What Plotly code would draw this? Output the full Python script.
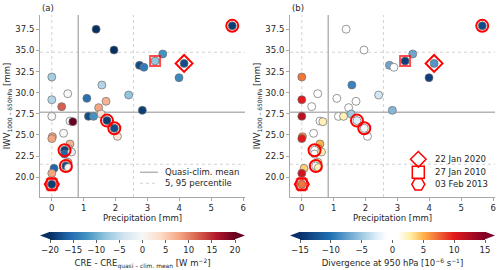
import plotly.graph_objects as go

# ---------------- data ----------------
precip = [5.66, 1.39, 1.95, 3.48, 3.24, 2.75, 2.89, 4.15, 3.99, 0.0,
          0.0, 0.5, 1.57, 1.1, 2.41, 1.70, 0.31, 1.47, 2.84, 0.0,
          1.15, 1.31, 1.55, 1.73, 1.96, 2.06, 0.57, 0.66, 0.37, 0.02,
          0.0, 0.57, 0.52, 0.4, 0.4, 0.62, 0.51, 0.44, 0.52, 0.07,
          0.0, 0.0]
iwv = [37.9, 37.5, 35.04, 34.57, 33.74, 33.23, 33.0, 33.46, 31.77, 31.85,
       29.17, 29.88, 30.9, 29.33, 29.72, 28.98, 28.35, 28.23, 27.91, 27.2,
       27.2, 27.2, 27.48, 26.7, 25.79, 24.84, 26.65, 26.57, 25.2, 24.8,
       24.57, 23.94, 23.4, 23.2, 22.74, 22.99, 21.77, 21.34, 21.14, 21.06,
       20.47, 19.17]
cre_anom = [-19, -20, -20, -12, -8, -18, -14, -18, -13, -7,
            -6, 0, -6, -15, -8, 7, 12, 8, -19, 0,
            -18, -12, 3, -19, -18, 3, 0, 20, 0, 8,
            8, 7, -5, -19, -16, -2, 7, -18, 0, -16,
            8, -19]
divergence = [-13, 0, 0, -7, -14, -7, 0, -8, -14, 7,
              10, 0, -9, 0, -3, -1, 0, 0, -6, 12,
              0, 2.5, -5, -2.5, -1.5, 0, 0, 2.5, 0, 6,
              10, 5, 6, 0, 0, 2.5, 3, 0, 2.5, 4,
              11, 7]

# highlighted event days
ev_feb2013_x = [5.66, 1.73, 1.96, 0.4, 0.44]
ev_feb2013_y = [37.9, 26.7, 25.79, 23.2, 21.34]
ev_feb2013_main_x = [0.0]
ev_feb2013_main_y = [19.17]
ev_jan2020_x = [4.15]
ev_jan2020_y = [33.46]
ev_jan2010_x = [3.24, 0.0]
ev_jan2010_y = [33.74, 19.17]

clim_mean_x, clim_mean_y = 0.83, 27.68
pct_x = [0.0, 2.56]
pct_y = [21.54, 34.78]

event_labels = ["22 Jan 2020", "27 Jan 2010", "03 Feb 2013"]
line_labels = ["Quasi-clim. mean", "5, 95 percentile"]

x_ticks = [0, 1, 2, 3, 4, 5, 6]
y_ticks = [20.0, 22.5, 25.0, 27.5, 30.0, 32.5, 35.0, 37.5]
cre_ticks = [-20, -15, -10, -5, 0, 5, 10, 15, 20]
div_ticks = [-15, -10, -5, 0, 5, 10, 15]

# ---------------- styling ----------------
W, H = 500, 270
FONT = "DejaVu Sans"
TXT = "#262626"
FS = 8.5
GRAY = "#b4b4b4"
DOTC = "#d2d2d2"

rdbu_r = ['#053061', '#2166ac', '#4393c3', '#92c5de', '#d1e5f0', '#f7f7f7',
          '#fddbc7', '#f4a582', '#d6604d', '#b2182b', '#67001f']
cs_cre = [[i / 10, c] for i, c in enumerate(rdbu_r)]
cs_div = [[0.0, '#08306b'], [0.1667, '#2171b5'], [0.3333, '#9ecae1'],
          [0.42, '#e3f0fa'], [0.47, '#ffffff'], [0.53, '#ffffff'],
          [0.6, '#ffeda0'], [0.6667, '#feb24c'], [0.8333, '#e31a1c'],
          [1.0, '#800026']]

fig = go.Figure()

def px2x(p):
    return p / W

def px2y(p):
    return 1 - p / H

dom_a = [px2x(40), px2x(245)]
dom_b = [px2x(290), px2x(495)]
dom_y = [px2y(197), px2y(15)]

axes = [("x", "y", "coloraxis", cre_anom), ("x2", "y2", "coloraxis2", divergence)]
for xa, ya, cax, vals in axes:
    fig.add_trace(go.Scatter(
        x=precip, y=iwv, mode="markers", xaxis=xa, yaxis=ya, showlegend=False,
        marker=dict(size=8, color=vals, coloraxis=cax,
                    line=dict(color="#6e6e6e", width=0.7))))
    fig.add_trace(go.Scatter(
        x=ev_feb2013_x, y=ev_feb2013_y, mode="markers", xaxis=xa, yaxis=ya,
        showlegend=False,
        marker=dict(symbol="circle-open", size=12,
                    color="red", line=dict(color="red", width=2))))
    fig.add_trace(go.Scatter(
        x=ev_feb2013_main_x, y=ev_feb2013_main_y, mode="markers", xaxis=xa, yaxis=ya,
        showlegend=False,
        marker=dict(symbol="hexagon2-open", size=14,
                    color="red", line=dict(color="red", width=2))))
    fig.add_trace(go.Scatter(
        x=ev_jan2020_x, y=ev_jan2020_y, mode="markers", xaxis=xa, yaxis=ya,
        showlegend=False,
        marker=dict(symbol="diamond-open", size=13, color="red",
                    line=dict(color="red", width=2))))
    fig.add_trace(go.Scatter(
        x=ev_jan2010_x, y=ev_jan2010_y, mode="markers", xaxis=xa, yaxis=ya,
        showlegend=False,
        marker=dict(symbol="square-open", size=[10, 10], color="red",
                    line=dict(color="red", width=2))))

# reference lines
shapes = []
for xr, yr in (("x", "y"), ("x2", "y2")):
    xd = xr + " domain"
    yd = yr + " domain"
    for px_ in pct_x:
        shapes.append(dict(type="line", xref=xr, yref=yd, x0=px_, x1=px_, y0=0, y1=1,
                           line=dict(color=DOTC, width=1, dash="dot"), layer="below"))
    for py_ in pct_y:
        shapes.append(dict(type="line", xref=xd, yref=yr, x0=0, x1=1, y0=py_, y1=py_,
                           line=dict(color=DOTC, width=1, dash="dot"), layer="below"))
    shapes.append(dict(type="line", xref=xr, yref=yd, x0=clim_mean_x, x1=clim_mean_x,
                       y0=0, y1=1, line=dict(color=GRAY, width=1.5), layer="below"))
    shapes.append(dict(type="line", xref=xd, yref=yr, x0=0, x1=1, y0=clim_mean_y,
                       y1=clim_mean_y, line=dict(color=GRAY, width=1.5), layer="below"))

# colorbar extension triangles
cb_y0, cb_y1 = 231.7, 239.3
cb_ym = (cb_y0 + cb_y1) / 2
for (l, r, cl, cr) in ((50, 235, rdbu_r[0], rdbu_r[-1]),
                       (300, 485, '#08306b', '#800026')):
    shapes.append(dict(type="path", xref="paper", yref="paper",
                       path=f"M {px2x(l)},{px2y(cb_y0)} L {px2x(l-10)},{px2y(cb_ym)} L {px2x(l)},{px2y(cb_y1)} Z",
                       fillcolor=cl, line=dict(width=0)))
    shapes.append(dict(type="path", xref="paper", yref="paper",
                       path=f"M {px2x(r)},{px2y(cb_y0)} L {px2x(r+10)},{px2y(cb_ym)} L {px2x(r)},{px2y(cb_y1)} Z",
                       fillcolor=cr, line=dict(width=0)))

# legend overlay axis (pixel coordinates)
leg_line_y = [172.3, 183.3]
for yy, dash in zip(leg_line_y, ["solid", "dot"]):
    fig.add_trace(go.Scatter(x=[140, 158], y=[yy, yy], mode="lines", xaxis="x3", yaxis="y3",
                             showlegend=False, hoverinfo="skip",
                             line=dict(color=GRAY if dash == "solid" else DOTC,
                                       width=1.5 if dash == "solid" else 1, dash=dash)))
leg_mark_y = [159.3, 172.3, 184.3]
for yy, sym, sz in zip(leg_mark_y, ["diamond-open", "square-open", "hexagon2-open"], [12, 12, 13]):
    fig.add_trace(go.Scatter(x=[418.3], y=[yy], mode="markers", xaxis="x3", yaxis="y3",
                             showlegend=False, hoverinfo="skip",
                             marker=dict(symbol=sym, size=sz, color="red",
                                         line=dict(color="red", width=1.5))))

annotations = []
for yy, t in zip(leg_line_y, line_labels):
    annotations.append(dict(text=t, xref="paper", yref="paper", x=px2x(163), y=px2y(yy),
                            xanchor="left", yanchor="middle", showarrow=False,
                            font=dict(size=FS, color=TXT)))
for yy, t in zip(leg_mark_y, event_labels):
    annotations.append(dict(text=t, xref="paper", yref="paper", x=px2x(433), y=px2y(yy),
                            xanchor="left", yanchor="middle", showarrow=False,
                            font=dict(size=FS, color=TXT)))
for xx, t in ((40, "(a)"), (290, "(b)")):
    annotations.append(dict(text=t, xref="paper", yref="paper", x=px2x(xx), y=px2y(7.5),
                            xanchor="left", yanchor="middle", showarrow=False,
                            font=dict(size=FS, color=TXT)))

ax_common = dict(showgrid=False, zeroline=False, showline=True, linecolor="#a8a8a8",
                 linewidth=1, ticks="outside", ticklen=3, tickcolor="#a8a8a8",
                 tickfont=dict(size=FS, color=TXT), mirror=False)
xax = dict(ax_common, range=[-0.37, 6.06], tickvals=x_ticks,
           title=dict(text="Precipitation [mm]", font=dict(size=FS, color=TXT), standoff=2))
yax = dict(ax_common, range=[17.67, 39.18], tickvals=y_ticks, tickformat=".1f",
           title=dict(text="IWV<sub>1000 – 650hPa</sub> [mm]", font=dict(size=FS, color=TXT),
                      standoff=3))

def cbar(xc, title, ticks):
    return dict(orientation="h", x=xc, xanchor="center", y=px2y(cb_y0), yanchor="top",
                len=185 / W, lenmode="fraction", thickness=cb_y1 - cb_y0, xpad=0, ypad=0,
                outlinewidth=0, tickvals=ticks, ticks="outside", ticklen=3,
                tickcolor="#606060", tickfont=dict(size=FS, color=TXT),
                title=dict(text=title, side="bottom", font=dict(size=FS, color=TXT)))

fig.update_layout(
    width=W, height=H, template="none",
    margin=dict(l=0, r=0, t=0, b=0, pad=0),
    paper_bgcolor="white", plot_bgcolor="rgba(0,0,0,0)",
    font=dict(family=FONT, size=FS, color=TXT),
    showlegend=False,
    xaxis=dict(xax, domain=dom_a, anchor="y"),
    yaxis=dict(yax, domain=dom_y, anchor="x"),
    xaxis2=dict(xax, domain=dom_b, anchor="y2"),
    yaxis2=dict(yax, domain=dom_y, anchor="x2"),
    xaxis3=dict(domain=[0, 1], range=[0, W], visible=False, anchor="y3", fixedrange=True),
    yaxis3=dict(domain=[0, 1], range=[H, 0], visible=False, anchor="x3", fixedrange=True),
    coloraxis=dict(colorscale=cs_cre, cmin=-20, cmax=20,
                   colorbar=cbar(142.5 / W,
                                 "CRE - CRE<sub>quasi – clim. mean</sub> [W m<sup>−2</sup>]",
                                 cre_ticks)),
    coloraxis2=dict(colorscale=cs_div, cmin=-15, cmax=15,
                    colorbar=cbar(392.5 / W,
                                  "Divergence at 950 hPa [10<sup>−6</sup> s<sup>−1</sup>]",
                                  div_ticks)),
    shapes=shapes, annotations=annotations,
)

fig.write_html("out.html", config={"displayModeBar": False},
               post_script="document.body.style.margin='0px';document.body.style.overflow='hidden';")
